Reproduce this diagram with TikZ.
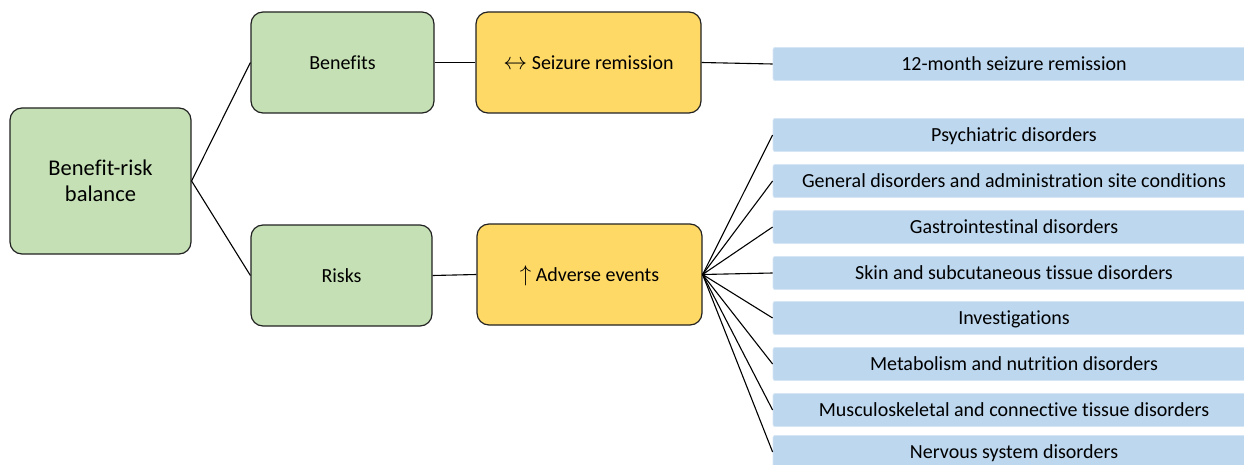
\documentclass[tikz,border=0pt]{standalone}
\usepackage{fontspec}
\setmainfont{Carlito}[Ligatures=NoCommon]
\definecolor{grn}{HTML}{C5E0B4}
\definecolor{ylw}{HTML}{FFD966}
\definecolor{blu}{HTML}{BDD7EE}
\definecolor{bluedge}{HTML}{D6E6F5}
\definecolor{edge}{HTML}{222222}
\begin{document}
\begin{tikzpicture}[x=1pt,y=-1pt,
  greenbox/.style={draw=edge,line width=1.2pt,fill=grn,rounded corners=12pt,inner sep=0pt,align=center},
  onetext/.style={text height=13.2pt,text depth=0pt},
  yellowbox/.style={draw=edge,line width=1.2pt,fill=ylw,rounded corners=12pt,inner sep=0pt,align=center,minimum width=225pt,minimum height=101pt,font=\fontsize{20}{24}\selectfont,onetext},
  bluebox/.style={draw=bluedge,line width=0.8pt,fill=blu,rounded corners=2pt,inner sep=0pt,minimum width=482pt,minimum height=33pt,font=\fontsize{20}{24}\selectfont,onetext},
  link/.style={draw=black,line width=1.1pt}]
\useasboundingbox (0,0) rectangle (1244,465);
\node[greenbox,minimum width=181pt,minimum height=146pt,font=\fontsize{22.5}{26}\selectfont] (bal) at (100.5,181) {Benefit-risk\\balance};
\node[greenbox,minimum width=183pt,minimum height=101pt,font=\fontsize{20}{24}\selectfont,onetext] (ben) at (342.5,62.5) {Benefits};
\node[greenbox,minimum width=181pt,minimum height=101pt,font=\fontsize{20}{24}\selectfont,onetext] (risk) at (341.5,275.5) {Risks};
\node[yellowbox] (sz) at (588.5,62.5) {\scalebox{1.15}{$\leftrightarrow$} Seizure remission};
\node[yellowbox] (ae) at (589.5,274.5) {\scalebox{1.1}{$\uparrow$} Adverse events};
\node[bluebox] (b0) at (1014,64) {12-month seizure remission};
\node[bluebox] (b1) at (1014,135) {Psychiatric disorders};
\node[bluebox] (b2) at (1014,181) {General disorders and administration site conditions};
\node[bluebox] (b3) at (1014,227) {Gastrointestinal disorders};
\node[bluebox] (b4) at (1014,273) {Skin and subcutaneous tissue disorders};
\node[bluebox] (b5) at (1014,318) {Investigations};
\node[bluebox] (b6) at (1014,364) {Metabolism and nutrition disorders};
\node[bluebox] (b7) at (1014,410) {Musculoskeletal and connective tissue disorders};
\node[bluebox] (b8) at (1014,452) {Nervous system disorders};
\draw[link] (bal.east) -- (ben.west);
\draw[link] (bal.east) -- (risk.west);
\draw[link] (ben.east) -- (sz.west);
\draw[link] (risk.east) -- (ae.west);
\draw[link] (sz.east) -- (b0.west);
\foreach \i in {1,...,8} {\draw[link] (ae.east) -- (b\i.west);}
\end{tikzpicture}
\end{document}
